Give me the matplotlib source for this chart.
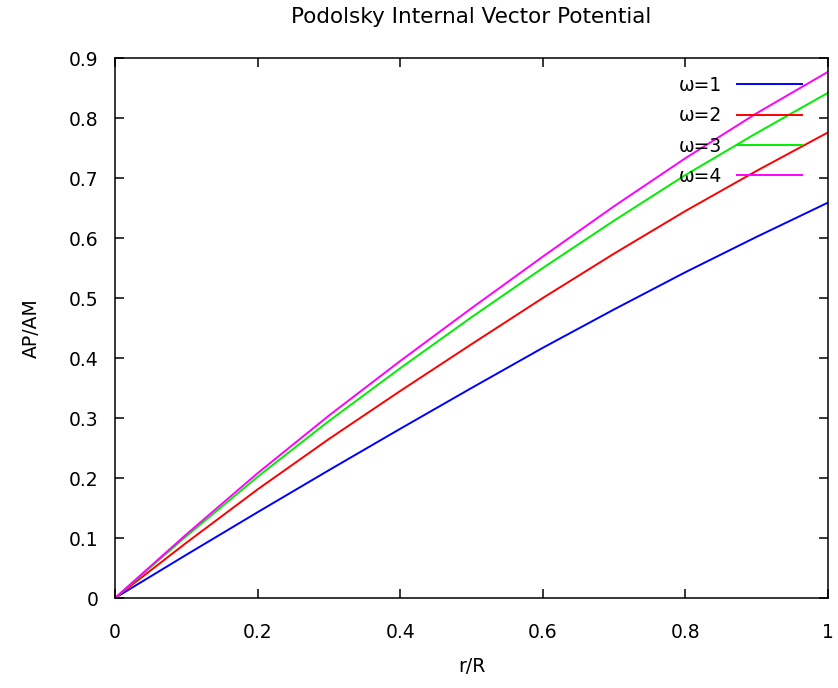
import matplotlib
matplotlib.use("Agg")
import matplotlib.pyplot as plt

# valores
r = [0.0, 0.1, 0.2, 0.3, 0.4, 0.5, 0.6, 0.7, 0.8, 0.9, 1.0]
w1 = [0, 0.072, 0.143, 0.213, 0.282, 0.350, 0.417, 0.481, 0.543, 0.602, 0.659]
w2 = [0, 0.092, 0.181, 0.265, 0.345, 0.423, 0.500, 0.574, 0.645, 0.712, 0.776]
w3 = [0, 0.103, 0.202, 0.295, 0.383, 0.468, 0.550, 0.629, 0.705, 0.775, 0.842]
w4 = [0, 0.106, 0.208, 0.304, 0.395, 0.483, 0.569, 0.653, 0.733, 0.808, 0.877]
etiquetas = ["ω=1", "ω=2", "ω=3", "ω=4"]
colores = ["#0000ff", "#ff0000", "#00ee00", "#ff00ff"]

plt.rcParams["font.family"] = ["DejaVu Sans"]
plt.rcParams["font.size"] = 13.5

fig = plt.figure(figsize=(8.38, 6.88), dpi=100)
ax = fig.add_axes([115/838, 90/688, 713/838, 540/688])

for y, lab, c in zip([w1, w2, w3, w4], etiquetas, colores):
    ax.plot(r, y, color=c, lw=1.4, label=lab)

ax.set_xlim(0, 1)
ax.set_ylim(0, 0.9)
ax.set_xticks([0, 0.2, 0.4, 0.6, 0.8, 1])
ax.set_xticklabels(["0", "0.2", "0.4", "0.6", "0.8", "1"])
ax.set_yticks([0, 0.1, 0.2, 0.3, 0.4, 0.5, 0.6, 0.7, 0.8, 0.9])
ax.set_yticklabels(["0", "0.1", "0.2", "0.3", "0.4", "0.5", "0.6", "0.7", "0.8", "0.9"])
ax.tick_params(direction="in", length=6.5, width=1.1, top=True, right=True)
ax.tick_params(axis="x", pad=18)
ax.tick_params(axis="y", pad=12)
for s in ax.spines.values():
    s.set_linewidth(1.1)

ax.set_xlabel("r/R", labelpad=11)
ax.set_ylabel("AP/AM", labelpad=20)
ax.set_title("Podolsky Internal Vector Potential", pad=25, fontsize=15.5)

ax.legend(loc="upper right", bbox_to_anchor=(802/838, 1 - 76/688),
          bbox_transform=fig.transFigure, frameon=False, markerfirst=False,
          handlelength=3.45, handletextpad=0.8, labelspacing=0.6,
          borderpad=0, borderaxespad=0)

fig.savefig("out.png", dpi=100)
